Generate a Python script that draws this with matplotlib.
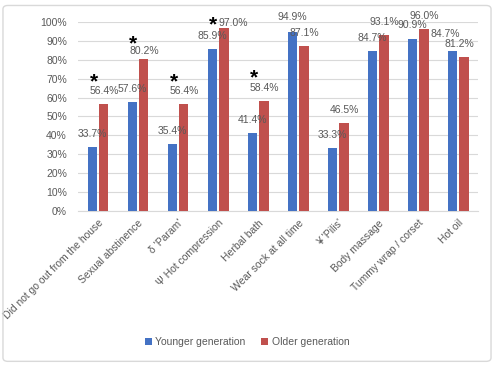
import matplotlib
matplotlib.use('Agg')
import matplotlib.pyplot as plt
from matplotlib.patches import FancyBboxPatch
from matplotlib.ticker import PercentFormatter
import numpy as np

plt.rcParams['font.family'] = ['Liberation Sans', 'DejaVu Sans']

categories = ['Did not go out from the house', 'Sexual abstinence', "δ 'Param'",
              'Ψ Hot compression', 'Herbal bath', 'Wear sock at all time',
              "¥ 'Pilis'", 'Body massage', 'Tummy wrap / corset', 'Hot oil']
younger = [33.7, 57.6, 35.4, 85.9, 41.4, 94.9, 33.3, 84.7, 90.9, 84.7]
older = [56.4, 80.2, 56.4, 97.0, 58.4, 87.1, 46.5, 93.1, 96.0, 81.2]
significant = [0, 1, 2, 3, 4]

BLUE = '#4472C4'
RED = '#C0504D'
GREY = '#595959'

# label offsets in pixels (dx, dy) where they were moved by hand
lab_off_y = {5: (0, 15), 8: (0, 14), 9: (-7, 17)}
lab_off_o = {1: (0, 8), 3: (9, 5), 9: (-5, 13)}
star_off = {1: (-11, 10), 3: (-11, -3)}

fig = plt.figure(figsize=(4.94, 3.65), dpi=100)
ax = fig.add_axes([0.158, 0.422, 0.81, 0.518])

x = np.arange(len(categories))
w = 0.23
off = 0.145
b1 = ax.bar(x - off, younger, w, color=BLUE, label='Younger generation', zorder=3)
b2 = ax.bar(x + off, older, w, color=RED, label='Older generation', zorder=3)

for bars, vals, offs in [(b1, younger, lab_off_y), (b2, older, lab_off_o)]:
    for i, (b, v) in enumerate(zip(bars, vals)):
        ax.annotate(f'{v:.1f}%', (b.get_x() + b.get_width() / 2, v),
                    xytext=offs.get(i, (0, 13)), textcoords='offset pixels',
                    ha='center', va='center', fontsize=7.5, color=GREY, zorder=5)

for i in significant:
    ax.annotate('*', (x[i] + off, older[i]), xytext=star_off.get(i, (-10, 17)),
                textcoords='offset pixels', ha='center', va='baseline',
                fontsize=15, fontweight='bold', color='black', zorder=6)

ax.set_ylim(0, 100)
ax.set_yticks(np.arange(0, 101, 10))
ax.yaxis.set_major_formatter(PercentFormatter(decimals=0))
ax.set_xlim(-0.5, len(categories) - 0.5)
ax.set_xticks(x)
ax.set_xticklabels(categories, rotation=45, ha='right', rotation_mode='anchor')
ax.tick_params(axis='y', length=0, labelsize=7.5, colors=GREY, pad=8)
ax.tick_params(axis='x', length=0, labelsize=7.5, colors=GREY, pad=5)
ax.grid(axis='y', color='#D9D9D9', linewidth=0.8, zorder=0)
for s in ['top', 'right', 'left']:
    ax.spines[s].set_visible(False)
ax.spines['bottom'].set_color('#D9D9D9')

fig.legend(handles=[b1, b2], loc='center', bbox_to_anchor=(0.5, 0.063), ncol=2,
           frameon=False, fontsize=7.5, handlelength=0.7, handleheight=0.7,
           handletextpad=0.3, columnspacing=1.5, labelcolor=GREY)

fig.patches.append(FancyBboxPatch((0.006, 0.01), 0.988, 0.975,
                                  boxstyle='round,pad=0,rounding_size=0.01',
                                  transform=fig.transFigure, facecolor='none',
                                  edgecolor='#D9D9D9', linewidth=1.0))

fig.savefig('out.png', dpi=100)
